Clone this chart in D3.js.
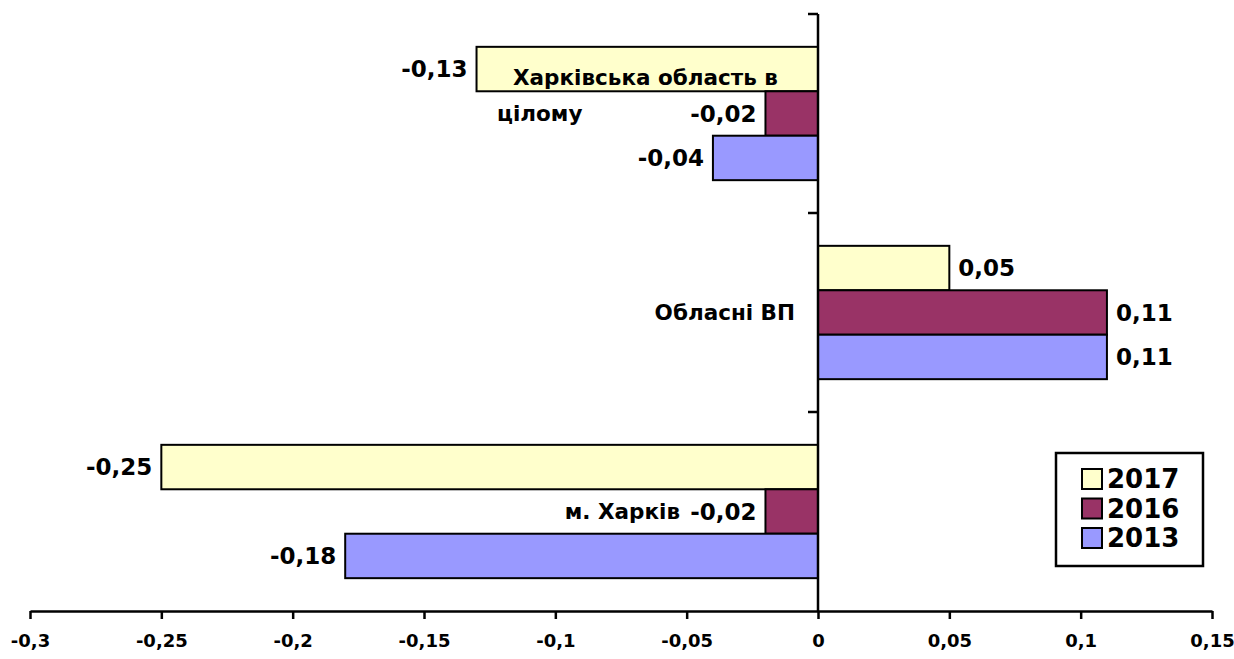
<!DOCTYPE html>
<html>
<head>
<meta charset="utf-8">
<script src="https://cdn.jsdelivr.net/npm/d3@7"></script>
<style>
  html, body { margin: 0; padding: 0; background: #fff; }
  svg { display: block; }
  text { font-family: "DejaVu Sans", sans-serif; font-weight: bold; fill: #000; }
</style>
</head>
<body>
<svg id="chart" width="1234" height="659"></svg>
<script>
// data
var categories = ['Харківська область в цілому', 'Обласні ВП', 'м. Харків'];
var seriesNames = ['2017', '2016', '2013'];
var values2017 = [-0.13, 0.05, -0.25];
var values2016 = [-0.02, 0.11, -0.02];
var values2013 = [-0.04, 0.11, -0.18];
var xTicks = [-0.3, -0.25, -0.2, -0.15, -0.1, -0.05, 0, 0.05, 0.1, 0.15];

var series = [
    { name: seriesNames[0], values: values2017, color: '#FFFFCC' },
    { name: seriesNames[1], values: values2016, color: '#993366' },
    { name: seriesNames[2], values: values2013, color: '#9999FF' }
];

var cs = {
    x: { left: 30, right: 1212, tickSize: 8 },
    y: { top: 14, bottom: 611, tickSize: 10 },
    font: { label: 23, tick: 18, legend: 26, cat: 21.5 },
    legend: { x: 1056, y: 453, w: 147, h: 113, sw: 20, row: 29.5 }
};

var svg = d3.select('#chart');
var fmt = v => d3.format('')(v).replace('.', ',').replace('−', '-');

var x = d3.scaleLinear().domain([-0.3, 0.15]).range([cs.x.left, cs.x.right]);
var y = d3.scaleBand().domain(categories).range([cs.y.top, cs.y.bottom])
    .paddingInner(0.33).paddingOuter(0.165);
var ySub = d3.scaleBand().domain(seriesNames).range([0, y.bandwidth()]);

// bars
series.forEach(s => {
    var g = svg.append('g');
    g.selectAll('rect').data(s.values).enter().append('rect')
        .attr('x', d => x(Math.min(0, d)))
        .attr('width', d => Math.abs(x(d) - x(0)))
        .attr('y', (d, i) => y(categories[i]) + ySub(s.name))
        .attr('height', ySub.bandwidth())
        .attr('fill', s.color)
        .attr('stroke', '#000')
        .attr('stroke-width', 2);

    g.selectAll('text').data(s.values).enter().append('text')
        .attr('x', d => d < 0 ? x(d) - 9 : x(d) + 9)
        .attr('y', (d, i) => y(categories[i]) + ySub(s.name) + ySub.bandwidth() / 2)
        .attr('dy', '0.36em')
        .attr('text-anchor', d => d < 0 ? 'end' : 'start')
        .style('font-size', cs.font.label + 'px')
        .text(d => fmt(d));
});

// x axis
var xAxis = d3.axisBottom(x).tickValues(xTicks).tickFormat(fmt)
    .tickSize(cs.x.tickSize).tickSizeOuter(0).tickPadding(15);
var gx = svg.append('g')
    .attr('transform', 'translate(0,' + cs.y.bottom + ')')
    .call(xAxis);
gx.select('.domain').attr('stroke', '#000').attr('stroke-width', 2.5);
gx.selectAll('.tick line').attr('stroke', '#000').attr('stroke-width', 2.5);
gx.selectAll('.tick text')
    .style('font-family', '"DejaVu Sans", sans-serif')
    .style('font-weight', 'bold')
    .style('font-size', cs.font.tick + 'px');

// y axis (line at zero, ticks between categories)
var step = y.step();
var bounds = categories.map(c => y(c) - (step - y.bandwidth()) / 2).concat([cs.y.bottom]);
svg.append('line')
    .attr('x1', x(0)).attr('x2', x(0))
    .attr('y1', cs.y.top).attr('y2', cs.y.bottom)
    .attr('stroke', '#000').attr('stroke-width', 2.5);
svg.selectAll('.ytick').data(bounds.slice(0, 3)).enter().append('line')
    .attr('class', 'ytick')
    .attr('x1', x(0) - cs.y.tickSize).attr('x2', x(0))
    .attr('y1', d => d).attr('y2', d => d)
    .attr('stroke', '#000').attr('stroke-width', 2.5);

// category labels (Excel put them in odd places; offsets from axis / band centre)
var catLayout = [
    { lines: ['Харківська область в', 'цілому'], dx: [-305, -321], dy: [-36, 0], anchor: 'start' },
    { lines: ['Обласні ВП'], dx: [-23], dy: [0], anchor: 'end' },
    { lines: ['м. Харків'], dx: [-138], dy: [0], anchor: 'end' }
];
categories.forEach((c, i) => {
    var cy = y(c) + y.bandwidth() / 2;
    var L = catLayout[i];
    L.lines.forEach((t, j) => {
        svg.append('text')
            .attr('x', x(0) + L.dx[j])
            .attr('y', cy + L.dy[j])
            .attr('dy', '0.36em')
            .attr('text-anchor', L.anchor)
            .style('font-size', cs.font.cat + 'px')
            .text(t);
    });
});

// legend
var lg = svg.append('g').attr('transform', 'translate(' + cs.legend.x + ',' + cs.legend.y + ')');
lg.append('rect')
    .attr('width', cs.legend.w).attr('height', cs.legend.h)
    .attr('fill', '#fff').attr('stroke', '#000').attr('stroke-width', 2.5);
var items = lg.selectAll('.item').data(series).enter().append('g')
    .attr('transform', (d, i) => 'translate(26,' + (16 + i * cs.legend.row) + ')');
items.append('rect')
    .attr('width', cs.legend.sw).attr('height', cs.legend.sw)
    .attr('fill', d => d.color).attr('stroke', '#000').attr('stroke-width', 2);
items.append('text')
    .attr('x', cs.legend.sw + 5)
    .attr('y', cs.legend.sw / 2)
    .attr('dy', '0.36em')
    .style('font-size', cs.font.legend + 'px')
    .text(d => d.name);
</script>
</body>
</html>
